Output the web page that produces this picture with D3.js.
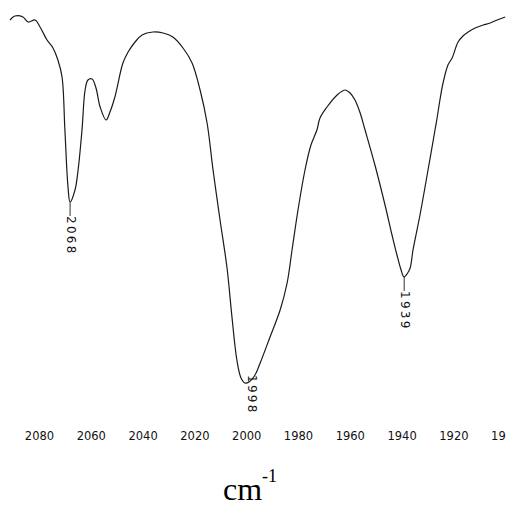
<!DOCTYPE html>
<html>
<head>
<meta charset="utf-8">
<script src="https://cdn.jsdelivr.net/npm/d3@7"></script>
<style>
  html, body { margin: 0; padding: 0; background: #fff; }
  svg { display: block; }
</style>
</head>
<body>
<script>
// Spectrum (wavenumber cm-1, transmittance a.u.)
const wavenumbers = [2091.2, 2089.3, 2086.2, 2084.2, 2081.5, 2079.6, 2076.9, 2074.6, 2072.7, 2071.1, 2070.0, 2068.8, 2068.0, 2066.1, 2064.9, 2063.4, 2062.2, 2061.1, 2059.5, 2058.0, 2056.4, 2054.1, 2052.6, 2050.7, 2047.6, 2045.6, 2042.9, 2040.2, 2036.0, 2032.1, 2028.3, 2024.4, 2020.9, 2017.8, 2015.1, 2012.8, 2010.1, 2007.4, 2005.5, 2003.6, 2002.0, 2000.5, 1998.9, 1996.6, 1994.6, 1990.8, 1986.9, 1984.2, 1982.3, 1980.0, 1977.3, 1975.0, 1972.7, 1971.5, 1968.8, 1964.9, 1961.8, 1959.9, 1958.0, 1956.0, 1954.1, 1950.3, 1946.4, 1943.7, 1941.8, 1940.2, 1939.1, 1937.9, 1936.7, 1935.6, 1932.9, 1929.8, 1927.1, 1926.3, 1925.2, 1924.0, 1922.1, 1920.5, 1918.2, 1916.3, 1914.3, 1911.6, 1908.5, 1905.8, 1903.1, 1900.0];
const transmittance = [95, 96, 95.75, 94.5, 95, 93.25, 90, 88, 85, 80.75, 67.5, 53.25, 49.5, 52.5, 57.5, 67.5, 77.5, 80, 80.25, 78, 73.25, 70, 72, 75.75, 84.25, 87, 89.5, 91.25, 92, 91.75, 90.75, 88, 84.25, 77.5, 69.25, 57.5, 45, 33, 20.75, 10, 5.5, 4.25, 4.5, 6.25, 9.25, 15.75, 22.5, 29.25, 37.5, 47.5, 57.5, 63.75, 67.5, 70.5, 73.25, 76.25, 77.5, 76.75, 75, 71.75, 67.5, 58.75, 48.75, 41.25, 36.25, 32.5, 30.75, 31.5, 33, 37.5, 46.25, 57.5, 67.5, 70.5, 75, 79.25, 83.75, 85.5, 89.5, 91, 92, 93, 93.75, 94.25, 95, 95.75];

// Labelled peaks
const peakWavenumbers = [2068, 1998, 1939];
const peakValues = [49.5, 4.5, 30.75];
const peakLabels = ["2068", "1998", "1939"];

// X axis ticks
const tickValues = [2080, 2060, 2040, 2020, 2000, 1980, 1960, 1940, 1920, 1900];
const axisTitle = "cm";
const axisTitleSup = "-1";

const W = 506, H = 508;
const svg = d3.select("body").append("svg").attr("width", W).attr("height", H);

const x = d3.scaleLinear().domain([2080, 1920]).range([39, 453.4]);
const y = d3.scaleLinear().domain([0, 100]).range([400, 0]);

const pts = wavenumbers.map((w, i) => [w, transmittance[i]]);
const line = d3.line()
  .x(d => x(d[0]))
  .y(d => y(d[1]))
  .curve(d3.curveCatmullRom.alpha(0.5));

svg.append("path")
  .datum(pts)
  .attr("fill", "none")
  .attr("stroke", "#1a1a1a")
  .attr("stroke-width", 1.2)
  .attr("stroke-linejoin", "round")
  .attr("d", line);

// X axis (labels only, no line/ticks)
const axis = d3.axisBottom(x).tickValues(tickValues).tickSize(0).tickPadding(0).tickFormat(d3.format("d"));
const gAxis = svg.append("g").attr("transform", "translate(0,431)").call(axis);
gAxis.select(".domain").remove();
gAxis.selectAll("text")
  .attr("font-family", "DejaVu Sans, sans-serif")
  .attr("font-size", 11.5)
  .attr("fill", "#111")
  .attr("dy", "0.75em");

// Peak labels
const labelLen = 38, bottomLimit = 413;
peakWavenumbers.forEach((w, i) => {
  const px = x(w), py = y(peakValues[i]);
  let start = py + 14;
  if (start + labelLen > bottomLimit) start = bottomLimit - labelLen;
  if (start > py) {
    svg.append("line")
      .attr("x1", px).attr("x2", px)
      .attr("y1", py).attr("y2", start)
      .attr("stroke", "#333").attr("stroke-width", 1);
  }
  svg.append("text")
    .attr("transform", `translate(${px},${start}) rotate(90)`)
    .attr("font-family", "DejaVu Sans, sans-serif")
    .attr("font-size", 12)
    .attr("letter-spacing", 2.3)
    .attr("dominant-baseline", "middle")
    .attr("fill", "#111")
    .text(peakLabels[i]);
});

// Axis title
const title = svg.append("text")
  .attr("x", 223).attr("y", 500)
  .attr("font-family", "Liberation Serif, 'Times New Roman', serif")
  .attr("font-size", 32)
  .attr("fill", "#000");
title.append("tspan").text(axisTitle);
title.append("tspan").attr("font-size", 18).attr("dy", -18).text(axisTitleSup);
</script>
</body>
</html>
